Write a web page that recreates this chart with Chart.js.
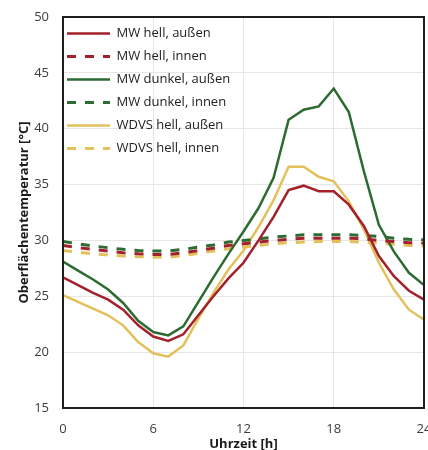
<!DOCTYPE html>
<html>
<head>
<meta charset="utf-8">
<script src="https://cdn.jsdelivr.net/npm/chart.js@4.4.1/dist/chart.umd.min.js"></script>
<style>
  html, body { margin: 0; padding: 0; overflow: hidden; background: #fff; width: 428px; height: 450px; }
  canvas { display: block; }
</style>
</head>
<body>
<canvas id="c" width="436" height="456"></canvas>
<script>
// ---- data ----
const hours = [0,1,2,3,4,5,6,7,8,9,10,11,12,13,14,15,16,17,18,19,20,21,22,23,24];
const seriesLabels = ["MW hell, außen", "MW hell, innen", "MW dunkel, außen", "MW dunkel, innen", "WDVS hell, außen", "WDVS hell, innen"];
const mwHellAussen   = [26.7,26.0,25.3,24.7,23.8,22.4,21.4,21.0,21.6,23.3,25.0,26.6,28.0,30.0,32.1,34.5,34.9,34.4,34.4,33.2,31.3,28.6,26.8,25.5,24.7];
const mwHellInnen    = [29.55,29.35,29.2,29.05,28.9,28.8,28.75,28.75,28.9,29.1,29.3,29.55,29.7,29.85,30.0,30.1,30.2,30.2,30.2,30.2,30.15,30.0,29.9,29.8,29.75];
const mwDunkelAussen = [28.1,27.3,26.5,25.6,24.4,22.8,21.8,21.5,22.3,24.5,26.7,28.8,30.8,32.9,35.6,40.8,41.7,42.0,43.6,41.5,36.2,31.4,29.0,27.1,26.0];
const mwDunkelInnen  = [29.9,29.7,29.5,29.35,29.2,29.1,29.05,29.05,29.2,29.4,29.6,29.85,30.0,30.15,30.3,30.4,30.5,30.5,30.5,30.5,30.45,30.35,30.2,30.1,30.05];
const wdvsHellAussen = [25.1,24.5,23.9,23.3,22.4,20.9,19.9,19.6,20.6,23.0,25.3,27.4,29.1,31.2,33.6,36.6,36.6,35.7,35.3,33.5,31.0,28.0,25.6,23.8,22.9];
const wdvsHellInnen  = [29.1,28.95,28.8,28.7,28.6,28.55,28.5,28.5,28.65,28.85,29.05,29.25,29.4,29.55,29.7,29.8,29.85,29.9,29.9,29.9,29.85,29.75,29.65,29.55,29.5];
const xTicks = [0, 6, 12, 18, 24];
const yTicks = [15, 20, 25, 30, 35, 40, 45, 50];

// ---- styles ----
const RED = '#a3212a', GREEN = '#2e6b32', YELLOW = '#e2c15c';
const FONT = "'Open Sans', 'Noto Sans', sans-serif";

const toXY = arr => hours.map((h, i) => ({x: h, y: arr[i]}));
const solid = (label, data, color) => ({label, data: toXY(data), borderColor: color, backgroundColor: color, borderWidth: 2.5, pointRadius: 0, tension: 0, fill: false});
const dashed = (label, data, color) => ({label, data: toXY(data), borderColor: color, backgroundColor: color, borderWidth: 3, borderDash: [9, 9], pointRadius: 0, tension: 0, fill: false});

const frame = {
  id: 'frame',
  afterDatasetsDraw(chart) {
    const {ctx, chartArea: a} = chart;
    ctx.save();
    ctx.strokeStyle = '#1e1e1e';
    ctx.lineWidth = 2;
    ctx.strokeRect(a.left, a.top, a.right - a.left, a.bottom - a.top);
    ctx.restore();
  }
};
const legendPlace = {
  id: 'legendPlace',
  afterLayout(chart) {
    if (chart.legend) {
      chart.legend.left = chart.chartArea.left - 6;
      chart.legend.top = chart.chartArea.top;
    }
  }
};

new Chart(document.getElementById('c'), {
  type: 'line',
  data: {
    datasets: [
      solid(seriesLabels[0], mwHellAussen, RED),
      dashed(seriesLabels[1], mwHellInnen, RED),
      solid(seriesLabels[2], mwDunkelAussen, GREEN),
      dashed(seriesLabels[3], mwDunkelInnen, GREEN),
      solid(seriesLabels[4], wdvsHellAussen, YELLOW),
      dashed(seriesLabels[5], wdvsHellInnen, YELLOW)
    ]
  },
  options: {
    responsive: false,
    animation: false,
    devicePixelRatio: 1,
    layout: { padding: { left: 0, top: 17, right: 12, bottom: 0 } },
    plugins: {
      legend: {
        position: 'chartArea',
        align: 'start',
        labels: {
          usePointStyle: true,
          pointStyle: 'line',
          pointStyleWidth: 43,
          padding: 10,
          color: '#222',
          font: { family: FONT, size: 13 },
          generateLabels(chart) {
            const items = Chart.defaults.plugins.legend.labels.generateLabels(chart);
            return items.map(it => {
              const ds = chart.data.datasets[it.datasetIndex];
              it.lineDash = ds.borderDash || [];
              it.lineWidth = ds.borderWidth;
              it.strokeStyle = ds.borderColor;
              it.pointStyle = 'line';
              return it;
            });
          }
        }
      },
      tooltip: { enabled: false }
    },
    scales: {
      x: {
        type: 'linear',
        min: 0, max: 24,
        afterBuildTicks(s) { s.ticks = xTicks.map(v => ({value: v})); },
        afterFit(s) { s.height = 48; s.paddingRight = 8; s.paddingLeft = 8; },
        ticks: { padding: 13, color: '#3c3c3c', font: { family: FONT, size: 13 }, maxRotation: 0 },
        grid: { color: '#e6e6e6', lineWidth: 1, drawTicks: false },
        border: { display: false },
        title: { display: true, text: 'Uhrzeit [h]', color: '#1a1a1a', font: { family: FONT, size: 13, weight: 'bold' }, padding: { top: 0, bottom: 4 } }
      },
      y: {
        min: 15, max: 50,
        afterBuildTicks(s) { s.ticks = yTicks.map(v => ({value: v})); },
        afterFit(s) { s.width = 63; s.paddingTop = 8; s.paddingBottom = 8; },
        ticks: { padding: 14, color: '#3c3c3c', font: { family: FONT, size: 13 } },
        grid: { color: '#e6e6e6', lineWidth: 1, drawTicks: false },
        border: { display: false },
        title: { display: true, text: 'Oberflächentemperatur [°C]', color: '#1a1a1a', font: { family: FONT, size: 13, weight: 'bold' }, padding: { top: 16, bottom: 0 } }
      }
    }
  },
  plugins: [frame, legendPlace]
});
</script>
</body>
</html>
